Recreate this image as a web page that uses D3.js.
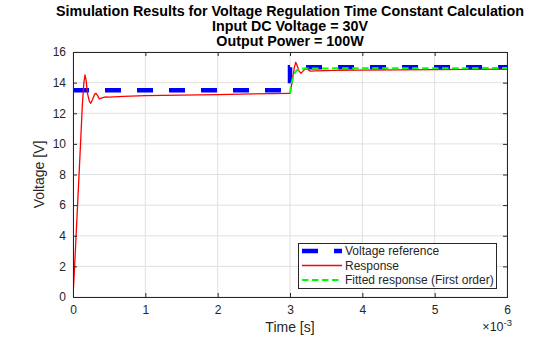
<!DOCTYPE html>
<html>
<head>
<meta charset="utf-8">
<script src="https://cdn.jsdelivr.net/npm/d3@7"></script>
<style>
  html, body { margin: 0; padding: 0; background: #fff; }
  svg { display: block; }
  text { font-family: "Liberation Sans", Arial, Helvetica, sans-serif; fill: #262626; }
</style>
</head>
<body>
<svg id="chart" width="560" height="337"></svg>
<script>
// Time axis values are in milliseconds (axis shows ×10^-3 s)
const xTicks = [0, 1, 2, 3, 4, 5, 6];
const yTicks = [0, 2, 4, 6, 8, 10, 12, 14, 16];

// Voltage reference: 13.5 V, stepping to 15 V at t = 3 ms
const refTime = [0, 3, 3, 6];
const refVolt = [13.5, 13.5, 15, 15];

// Simulated output voltage
const respTime = [0, 0.02, 0.05, 0.1, 0.13, 0.15, 0.166, 0.18, 0.2, 0.225, 0.245, 0.27, 0.3, 0.318, 0.34, 0.364, 0.4, 0.44, 0.5, 0.7, 1.0, 1.5, 2.0, 2.5, 2.99,
                  3.0, 3.02, 3.04, 3.06, 3.079, 3.1, 3.125, 3.152, 3.18, 3.22, 3.25, 3.28, 3.35, 3.6, 4.0, 4.5, 5.0, 5.5, 6.0];
const respVolt = [0, 1.8, 4.7, 9.6, 12.6, 14.0, 14.5, 14.2, 13.3, 12.8, 12.65, 12.9, 13.25, 13.3, 13.15, 12.93, 13.0, 13.06, 13.05, 13.1, 13.15, 13.18, 13.22, 13.26, 13.3,
                  13.3, 13.8, 14.4, 15.0, 15.33, 15.1, 14.75, 14.6, 14.75, 14.94, 14.85, 14.75, 14.77, 14.8, 14.81, 14.83, 14.85, 14.87, 14.88];

// First-order fit of the step response after t = 3 ms
const fitTime = [3.0, 3.01, 3.02, 3.03, 3.04, 3.05, 3.06, 3.08, 3.1, 3.15, 3.2, 3.5, 6.0];
const fitVolt = [13.3, 13.62, 13.9, 14.12, 14.3, 14.45, 14.57, 14.74, 14.83, 14.9, 14.92, 14.93, 14.95];

const titleLines = [
  "Simulation Results for Voltage Regulation Time Constant Calculation",
  "Input DC Voltage = 30V",
  "Output Power = 100W"
];
const legendLabels = ["Voltage reference", "Response", "Fitted response (First order)"];

const svg = d3.select("#chart");
const m = { left: 73, right: 507, top: 52, bottom: 297 };

const x = d3.scaleLinear().domain([0, 6]).range([m.left, m.right]);
const y = d3.scaleLinear().domain([0, 16]).range([m.bottom, m.top]);

// grid
const grid = svg.append("g").attr("stroke", "#e0e0e0").attr("stroke-width", 1);
xTicks.forEach(t => grid.append("line")
  .attr("x1", x(t)).attr("x2", x(t)).attr("y1", m.top).attr("y2", m.bottom));
yTicks.forEach(t => grid.append("line")
  .attr("x1", m.left).attr("x2", m.right).attr("y1", y(t)).attr("y2", y(t)));

// clip
svg.append("defs").append("clipPath").attr("id", "plotClip")
  .append("rect").attr("x", m.left).attr("y", m.top - 3)
  .attr("width", m.right - m.left).attr("height", m.bottom - m.top + 3);

const line = d3.line().x(d => x(d[0])).y(d => y(d[1]));
const plot = svg.append("g").attr("clip-path", "url(#plotClip)");

plot.append("path")
  .datum(refTime.map((t, i) => [t, refVolt[i]]))
  .attr("d", line).attr("fill", "none")
  .attr("stroke", "#0000ff").attr("stroke-width", 4.5)
  .attr("stroke-dasharray", "16,16").attr("stroke-linecap", "butt");

plot.append("path")
  .datum(respTime.map((t, i) => [t, respVolt[i]]))
  .attr("d", line).attr("fill", "none")
  .attr("stroke", "#ff0000").attr("stroke-width", 1.3)
  .attr("stroke-linejoin", "round");

plot.append("path")
  .datum(fitTime.map((t, i) => [t, fitVolt[i]]))
  .attr("d", line).attr("fill", "none")
  .attr("stroke", "#00ff00").attr("stroke-width", 2)
  .attr("stroke-dasharray", "6.5,3.5");

// axes
const xAxis = d3.axisBottom(x).tickValues(xTicks).tickSize(-4).tickPadding(8).tickFormat(d3.format("d"));
const yAxis = d3.axisLeft(y).tickValues(yTicks).tickSize(-4).tickPadding(7).tickFormat(d3.format("d"));
const xTop = d3.axisTop(x).tickValues(xTicks).tickSize(-4).tickFormat("");
const yRight = d3.axisRight(y).tickValues(yTicks).tickSize(-4).tickFormat("");

function style(g) {
  g.selectAll("path.domain").attr("stroke", "#262626").attr("stroke-width", 1);
  g.selectAll(".tick line").attr("stroke", "#262626");
  g.selectAll(".tick text").attr("font-size", 12).attr("fill", "#262626")
    .attr("font-family", "Liberation Sans, Arial, sans-serif");
}
svg.append("g").attr("transform", `translate(0,${m.bottom})`).call(xAxis).call(style);
svg.append("g").attr("transform", `translate(${m.left},0)`).call(yAxis).call(style);
svg.append("g").attr("transform", `translate(0,${m.top})`).call(xTop).call(style);
svg.append("g").attr("transform", `translate(${m.right},0)`).call(yRight).call(style);

// exponent label
const ex = svg.append("text").attr("x", 512).attr("y", 331).attr("text-anchor", "end").attr("font-size", 12.5);
ex.append("tspan").text("×10");
ex.append("tspan").attr("dy", -5).attr("font-size", 9.5).text("-3");

// axis labels
svg.append("text").attr("x", (m.left + m.right) / 2).attr("y", 332)
  .attr("text-anchor", "middle").attr("font-size", 14).text("Time [s]");
svg.append("text").attr("transform", `translate(44,${(m.top + m.bottom) / 2}) rotate(-90)`)
  .attr("text-anchor", "middle").attr("font-size", 14).text("Voltage [V]");

// title
titleLines.forEach((s, i) => svg.append("text")
  .attr("x", (m.left + m.right) / 2).attr("y", 15.5 + i * 15)
  .attr("text-anchor", "middle").attr("font-size", 14.3).attr("font-weight", "bold")
  .attr("fill", "#000").style("fill", "#000").text(s));

// legend
const lg = svg.append("g");
lg.append("rect").attr("x", 298.5).attr("y", 243.5).attr("width", 198).attr("height", 45)
  .attr("fill", "#fff").attr("stroke", "#262626").attr("stroke-width", 1);
const legStyles = [
  { c: "#0000ff", w: 4.5, d: "16,16" },
  { c: "#ff0000", w: 1.3, d: null },
  { c: "#00ff00", w: 2, d: "6.5,3.5" }
];
legendLabels.forEach((s, i) => {
  const cy = 251 + i * 14.5;
  const ln = lg.append("line").attr("x1", 302).attr("x2", 342).attr("y1", cy).attr("y2", cy)
    .attr("stroke", legStyles[i].c).attr("stroke-width", legStyles[i].w);
  if (legStyles[i].d) ln.attr("stroke-dasharray", legStyles[i].d);
  lg.append("text").attr("x", 345).attr("y", cy + 4.3).attr("font-size", 12).text(s);
});
</script>
</body>
</html>
